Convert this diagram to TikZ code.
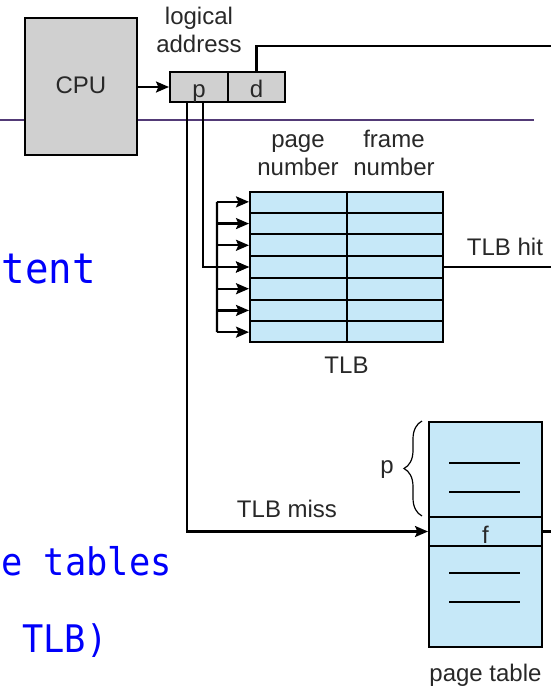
\documentclass[tikz,border=0pt]{standalone}
\usepackage{fontspec}
\setmainfont{Liberation Sans}
\newfontfamily\codefont[FakeStretch=0.93]{DejaVu Sans Mono}
\usepackage{xcolor}
\usetikzlibrary{calc}
\usetikzlibrary{arrows.meta}
\usetikzlibrary{decorations.pathreplacing}
\definecolor{boxgray}{RGB}{208,208,208}
\definecolor{tlbblue}{RGB}{198,232,248}
\definecolor{rulepurple}{RGB}{82,58,118}
\definecolor{codeblue}{RGB}{0,0,250}
\definecolor{inkgray}{RGB}{40,40,40}
\def\lblfont{\fontsize{12}{14}\selectfont}
\def\bigcode{\codefont\fontsize{21}{25}\selectfont}
\def\smallcode{\codefont\fontsize{19}{23}\selectfont}

\begin{document}
\begin{tikzpicture}[x=0.5pt,y=-0.5pt,
	wire/.style={line width=1.1pt},
	ptr/.style={line width=1.1pt,-{Stealth[length=6.5pt,width=5.5pt,inset=1.2pt]}},
	graybox/.style={draw,fill=boxgray,line width=1pt,inner sep=0pt,font=\lblfont,text=inkgray},
	bluebox/.style={draw,fill=tlbblue,line width=1pt,inner sep=0pt},
	lbl/.style={inner sep=0pt,align=center,font=\lblfont,text=inkgray},
	slidetext/.style={inner sep=0pt,text=codeblue,anchor=base east}]
	\useasboundingbox (0,0) rectangle (551,687);
	\clip (0,0) rectangle (551,687);
	\draw[line width=1pt,rulepurple] (0,120)--(534,120);
	\node[slidetext,font=\bigcode] (line1) at (96,283) {tent};
	\node[slidetext,font=\smallcode] (line2) at (172,575) {e tables};
	\node[slidetext,font=\smallcode,anchor=base west] (line3) at (22,652) {TLB)};

	\node[graybox,minimum width=56pt,minimum height=68.5pt,text height=6.5pt,text depth=0pt] (cpu) at (81,86.5) {CPU};
	\node[graybox,minimum width=29pt,minimum height=15pt,text height=10pt,text depth=0pt] (p) at (199,87) {p};
	\node[graybox,minimum width=28.5pt,minimum height=15pt,text height=10pt,text depth=0pt] (d) at (256.5,87) {d};
	\node[lbl,anchor=south] (addr) at (199,53) {logical\\address};
	\draw[ptr] (cpu.east |- p.west)--(p.west);
	\coordinate (phys) at (560,46);
	\draw[wire] (d.north) |- (phys);

	\node[bluebox,minimum width=96.5pt,minimum height=75pt] (tlb) at (346.5,267) {};
	\draw[line width=1pt] (tlb.north)--(tlb.south);
	\foreach \i in {1,...,6}
		\draw[line width=1pt] ($(tlb.north west)!\i/7!(tlb.south west)$)--($(tlb.north east)!\i/7!(tlb.south east)$);
	\foreach \i in {1,...,7}{
		\coordinate (row\i) at ($(tlb.north west)!{(\i-0.5)/7}!(tlb.south west)$);
		\draw[ptr] ([xshift=-16pt]row\i)--(row\i);
	}
	\draw[wire] ([xshift=-16pt]row1)--([xshift=-16pt]row7);
	\node[lbl,anchor=south] (pgnum) at (298,176) {page\\number};
	\node[lbl,anchor=south] (frnum) at (394,176) {frame\\number};
	\node[lbl,anchor=base] (tlbname) at (346.5,373) {TLB};
	\draw[ptr] ([xshift=2pt]p.south) |- (row4);
	\coordinate (hit) at (560,267);
	\draw[wire] (tlb.east)--(hit);
	\node[lbl,anchor=base] (hitlbl) at (505,255) {TLB hit};

	\node[bluebox,minimum width=56.5pt,minimum height=112.5pt] (pt) at (485.5,534.5) {};
	\node[draw,line width=1pt,inner sep=0pt,minimum width=56.5pt,minimum height=14.5pt,text height=11.5pt,text depth=0pt,font=\lblfont,text=inkgray] (f) at (485.5,531.5) {f};
	\foreach \y in {463,492,573,602}
		\draw[line width=0.8pt] (449,\y)--(520,\y);
	\draw[line width=0.6pt,decorate,decoration={brace,amplitude=9pt}] ([xshift=-3pt]f.north west)--([xshift=-3pt]pt.north west);
	\node[lbl,anchor=base] (plbl) at (387,473) {p};
	\draw[ptr] ([xshift=-6pt]p.south) |- (f.west);
	\node[lbl,anchor=base] (misslbl) at (287,517) {TLB miss};
	\coordinate (fout) at (560,531.5);
	\draw[wire] (f.east)--(fout);
	\node[lbl,anchor=base] (ptname) at (485.5,681) {page table};
\end{tikzpicture}
\end{document}
